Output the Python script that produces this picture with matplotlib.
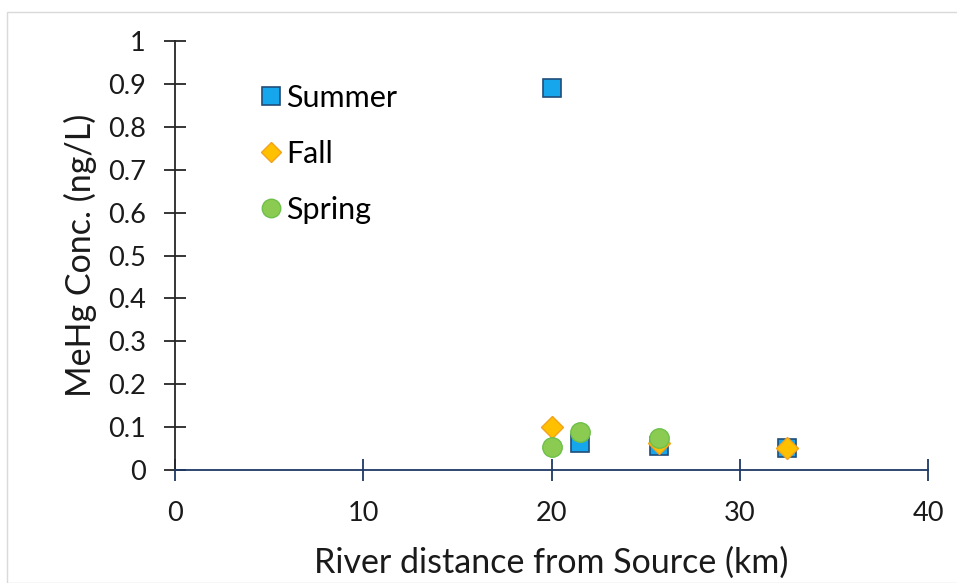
import matplotlib.pyplot as plt
from matplotlib.patches import Rectangle

# MeHg concentrations along the river, by season
summer_km = [20.0, 21.5, 25.7, 32.5]
summer_conc = [0.89, 0.063, 0.055, 0.051]

fall_km = [20.0, 25.7, 32.5]
fall_conc = [0.10, 0.063, 0.051]

spring_km = [20.0, 21.5, 25.7]
spring_conc = [0.054, 0.088, 0.074]

x_ticks = [0, 10, 20, 30, 40]
y_ticks = [0, 0.1, 0.2, 0.3, 0.4, 0.5, 0.6, 0.7, 0.8, 0.9, 1]
y_tick_labels = ['0', '0.1', '0.2', '0.3', '0.4', '0.5', '0.6', '0.7', '0.8', '0.9', '1']

plt.rcParams['font.family'] = ['Lato', 'DejaVu Sans']
text_col = '#1A1A1A'

fig = plt.figure(figsize=(9.57, 5.83), dpi=100)
fig.patches.append(Rectangle((7 / 957, 0), 1, 1 - 12 / 583, transform=fig.transFigure,
                             fill=False, edgecolor='#D9D9D9', linewidth=1))
ax = fig.add_axes([175 / 957, 1 - 470 / 583, 753 / 957, 429 / 583])

ax.plot(summer_km, summer_conc, 's', ms=13, mfc='#16A6EC', mec='#1F4E79', mew=1.2,
        label='Summer', zorder=3)
ax.plot(fall_km, fall_conc, 'D', ms=11, mfc='#FFC000', mec='#F4A21C', mew=1.0,
        label='Fall', zorder=4)
ax.plot(spring_km, spring_conc, 'o', ms=14, mfc='#8CCB52', mec='#6DC04A', mew=1.0,
        label='Spring', zorder=5)

ax.set_xlim(0, 40)
ax.set_ylim(0, 1)
ax.set_xticks(x_ticks)
ax.set_yticks(y_ticks)
ax.set_yticklabels(y_tick_labels)

for side in ['top', 'right']:
    ax.spines[side].set_visible(False)
ax.spines['left'].set_color('#262626')
ax.spines['bottom'].set_color('#1F3864')
for side in ['left', 'bottom']:
    ax.spines[side].set_linewidth(1.3)
ax.tick_params(axis='y', direction='inout', length=16, width=1.3, color='#262626',
               labelsize=19.5, labelcolor=text_col, pad=13)
ax.tick_params(axis='x', direction='inout', length=16, width=1.3, color='#1F3864',
               labelsize=19.5, labelcolor=text_col, pad=14)

ax.set_xlabel('River distance from Source (km)', fontsize=24.5, color=text_col, labelpad=15)
ax.set_ylabel('MeHg Conc. (ng/L)', fontsize=24.5, color=text_col, labelpad=8)

ax.legend(loc='upper left', bbox_to_anchor=(0.06, 0.965), frameon=False, fontsize=22,
          handletextpad=-0.25, labelspacing=0.92, handlelength=1.5, markerscale=0.95)

fig.savefig('out.png', dpi=100)
